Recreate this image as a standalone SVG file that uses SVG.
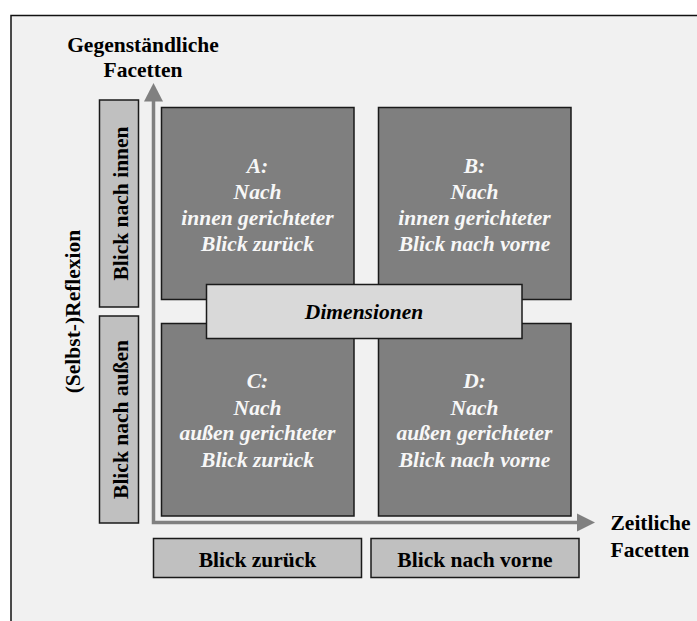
<svg xmlns="http://www.w3.org/2000/svg" width="697" height="621" viewBox="0 0 697 621">
<style>
text{font-family:'Liberation Serif','Times New Roman',serif;font-weight:bold;font-size:21.5px}
.t{fill:#000}
.q{font-style:italic;fill:#f7f7f7;text-anchor:middle}
.quad{fill:#7f7f7f;stroke:#1a1a1a;stroke-width:1.5}
.bar{fill:#c0c0c0;stroke:#1a1a1a;stroke-width:1.5}
.axis{stroke:#808080;stroke-width:3.5;fill:none}
.mid{text-anchor:middle}
</style>
<rect x="0" y="0" width="697" height="621" fill="#ffffff"/>
<rect x="11" y="15.5" width="700" height="620" fill="#f1f1f1" stroke="#111" stroke-width="1.5"/>
<g id="connectors">
<path class="axis" d="M153.5,101 V522.5 H577"/>
<polygon points="144,101.5 163,101.5 153.5,83" fill="#808080"/>
<polygon points="577,513.5 577,531.5 595,522.5" fill="#808080"/>
</g>
<g id="label-gegen">
<text class="t mid" x="143" y="52">Gegenständliche</text>
<text class="t mid" x="143" y="76.5">Facetten</text>
</g>
<g id="label-zeit">
<text class="t" x="610.5" y="529.5">Zeitliche</text>
<text class="t" x="610.5" y="556.5">Facetten</text>
</g>
<g id="label-reflexion">
<text class="t mid" transform="translate(80,311.5) rotate(-90)" x="0" y="0">(Selbst-)Reflexion</text>
</g>
<g id="bar-innen">
<rect class="bar" x="99.5" y="100" width="39" height="207"/>
<text class="t mid" transform="translate(128,203.5) rotate(-90)" x="0" y="0">Blick nach innen</text>
</g>
<g id="bar-aussen">
<rect class="bar" x="99.5" y="316" width="39" height="207"/>
<text class="t mid" transform="translate(128,419.5) rotate(-90)" x="0" y="0">Blick nach außen</text>
</g>
<g id="bar-zurueck">
<rect class="bar" x="153.5" y="538.5" width="208" height="39"/>
<text class="t mid" x="257.5" y="566.5">Blick zurück</text>
</g>
<g id="bar-vorne">
<rect class="bar" x="371" y="538.5" width="208" height="39"/>
<text class="t mid" x="475" y="566.5">Blick nach vorne</text>
</g>
<g id="quad-a">
<rect class="quad" x="161.5" y="107.5" width="192.5" height="192"/>
<text class="q" x="257.5" y="173">A:</text>
<text class="q" x="257.5" y="199">Nach</text>
<text class="q" x="257.5" y="225">innen gerichteter</text>
<text class="q" x="257.5" y="250.5">Blick zurück</text>
</g>
<g id="quad-b">
<rect class="quad" x="378.5" y="107.5" width="192.5" height="192"/>
<text class="q" x="474.5" y="173">B:</text>
<text class="q" x="474.5" y="199">Nach</text>
<text class="q" x="474.5" y="225">innen gerichteter</text>
<text class="q" x="474.5" y="250.5">Blick nach vorne</text>
</g>
<g id="quad-c">
<rect class="quad" x="161.5" y="323.5" width="192.5" height="192.5"/>
<text class="q" x="257.5" y="388">C:</text>
<text class="q" x="257.5" y="414.5">Nach</text>
<text class="q" x="257.5" y="440">außen gerichteter</text>
<text class="q" x="257.5" y="466.5">Blick zurück</text>
</g>
<g id="quad-d">
<rect class="quad" x="378.5" y="323.5" width="192.5" height="192.5"/>
<text class="q" x="474.5" y="388">D:</text>
<text class="q" x="474.5" y="414.5">Nach</text>
<text class="q" x="474.5" y="440">außen gerichteter</text>
<text class="q" x="474.5" y="466.5">Blick nach vorne</text>
</g>
<g id="dimensionen">
<rect x="206.5" y="284.5" width="315.5" height="54" fill="#d9d9d9" stroke="#1a1a1a" stroke-width="1.5"/>
<text class="q" x="364" y="319" style="fill:#000">Dimensionen</text>
</g>
</svg>
